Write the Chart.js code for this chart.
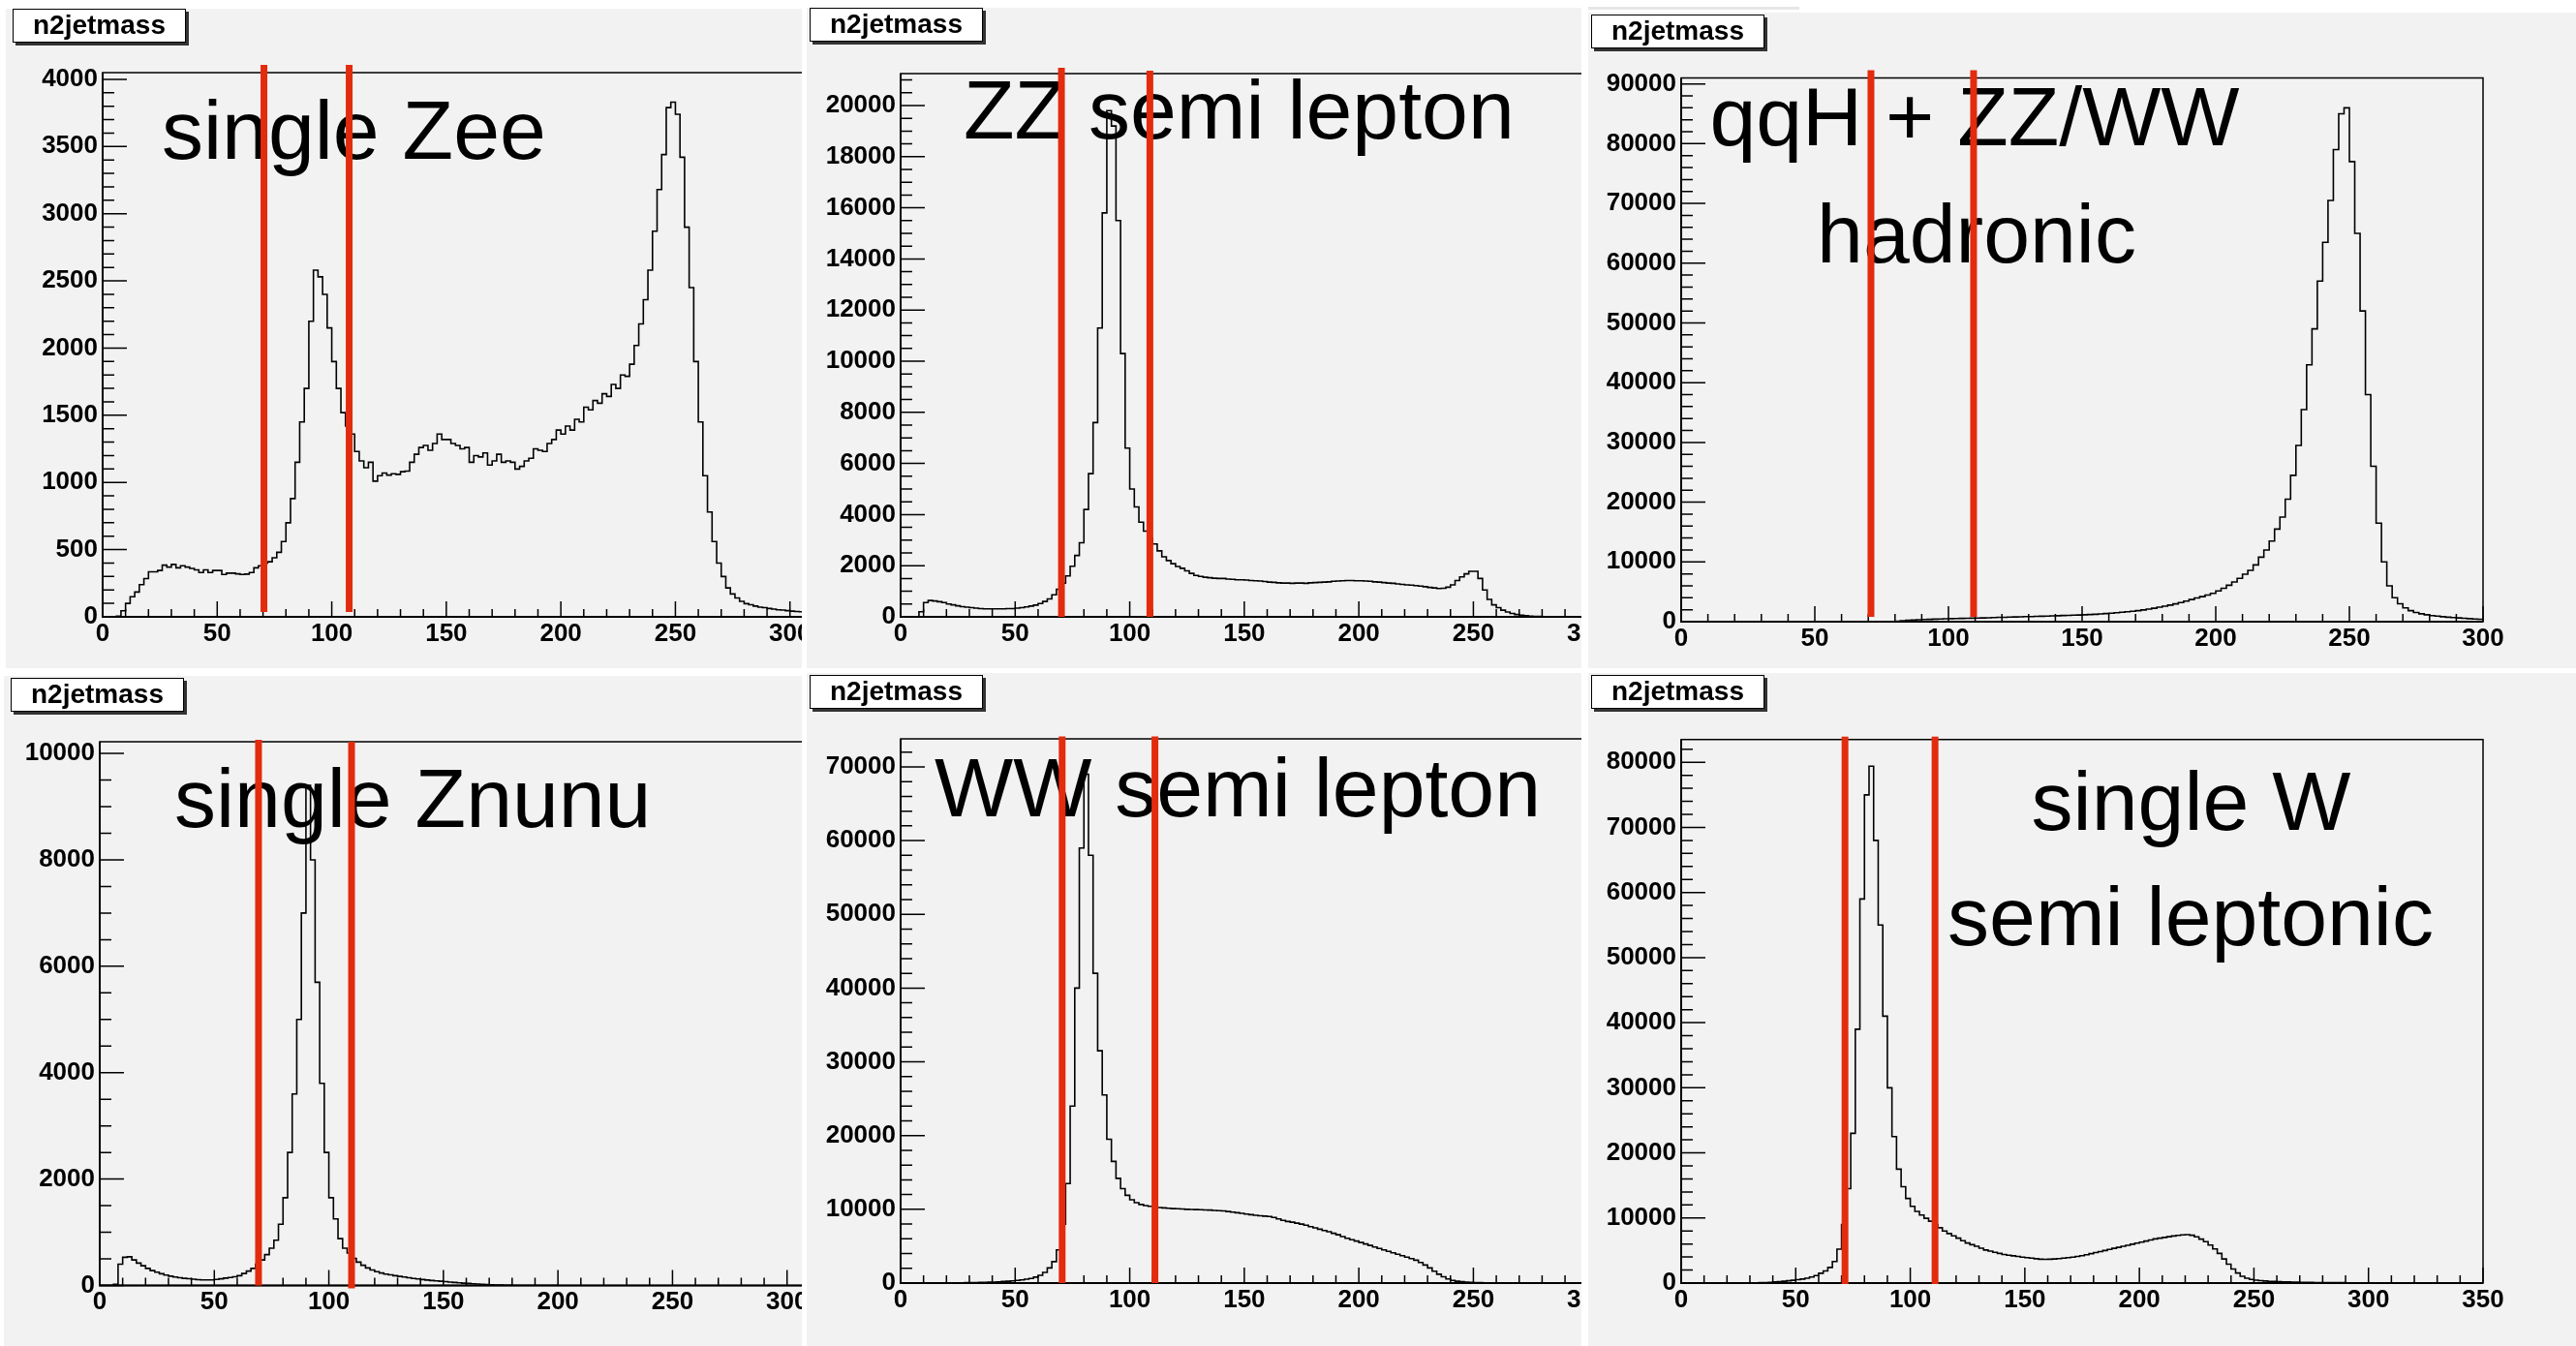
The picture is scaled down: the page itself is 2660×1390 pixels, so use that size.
<!DOCTYPE html>
<html>
<head>
<meta charset="utf-8">
<title>n2jetmass</title>
<script src="https://cdn.jsdelivr.net/npm/chart.js@4.4.1/dist/chart.umd.min.js"></script>
<style>
  html, body { margin: 0; padding: 0; background: #fff; }
  #page { position: relative; width: 2660px; height: 1390px; overflow: hidden; background: #fff; }
  .panel { position: absolute; background: #f2f2f2; overflow: hidden; }
  .panel canvas { position: absolute; left: 0; top: 0; }
  .title {
    position: absolute; box-sizing: border-box; width: 179px; height: 35px;
    background: #fff; border: 1.5px solid #000; box-shadow: 3px 3px 0 #333;
    font: bold 28px "Liberation Sans", Arial, sans-serif; line-height: 31px; text-align: center; color: #000;
  }
  #strip { position: absolute; left: 1640px; top: 7px; width: 218px; height: 3px; background: #e6e6e6; }
</style>
</head>
<body>
<div id="page">
  <div id="strip"></div>
  <div class="panel" style="left:6px;top:9px;width:822px;height:681px">
    <canvas id="c1" width="968" height="681"></canvas>
    <div class="title" style="left:7px;top:0px">n2jetmass</div>
  </div>
  <div class="panel" style="left:833px;top:8px;width:800px;height:682px">
    <canvas id="c2" width="965" height="682"></canvas>
    <div class="title" style="left:3px;top:0px">n2jetmass</div>
  </div>
  <div class="panel" style="left:1640px;top:13px;width:1020px;height:677px">
    <canvas id="c3" width="1020" height="677"></canvas>
    <div class="title" style="left:3px;top:2px">n2jetmass</div>
  </div>
  <div class="panel" style="left:4px;top:698px;width:824px;height:692px">
    <canvas id="c4" width="967" height="692"></canvas>
    <div class="title" style="left:7px;top:2px">n2jetmass</div>
  </div>
  <div class="panel" style="left:833px;top:695px;width:800px;height:695px">
    <canvas id="c5" width="965" height="695"></canvas>
    <div class="title" style="left:3px;top:2px">n2jetmass</div>
  </div>
  <div class="panel" style="left:1640px;top:695px;width:1020px;height:695px">
    <canvas id="c6" width="1020" height="695"></canvas>
    <div class="title" style="left:3px;top:2px">n2jetmass</div>
  </div>
</div>
<script>
// bins of 2 GeV starting at 0, one row = 20 GeV
const binWidth = 2;

const zeeCounts = [
  0, 0, 0, 5, 45, 100, 150, 185, 240, 285,
  335, 335, 345, 385, 370, 390, 365, 380, 370, 360,
  350, 330, 350, 330, 345, 345, 315, 325, 325, 320,
  315, 318, 330, 365, 380, 400, 410, 440, 480, 560,
  700, 880, 1150, 1450, 1700, 2200, 2580, 2530, 2400, 2150,
  1900, 1700, 1520, 1420, 1360, 1230, 1160, 1110, 1150, 1010,
  1050, 1070, 1055, 1065, 1060, 1080, 1085, 1150, 1210, 1260,
  1275, 1240, 1290, 1360, 1320, 1320, 1290, 1275, 1250, 1260,
  1150, 1200, 1190, 1220, 1130, 1160, 1210, 1150, 1160, 1150,
  1100, 1120, 1160, 1180, 1250, 1240, 1230, 1290, 1320, 1390,
  1360, 1420, 1390, 1470, 1450, 1560, 1540, 1610, 1590, 1660,
  1640, 1730, 1700, 1800, 1790, 1880, 2020, 2180, 2360, 2580,
  2870, 3180, 3440, 3790, 3830, 3740, 3420, 2900, 2450, 1900,
  1450, 1050, 780, 560, 400, 300, 215, 170, 140, 115,
  98, 90, 80, 72, 68, 62, 58, 52, 50, 46,
  42, 40, 38, 36, 34
];

const zzSemiCounts = [
  0, 0, 0, 0, 200, 560, 640, 620, 590, 560,
  500, 470, 430, 400, 380, 360, 340, 320, 315, 315,
  315, 315, 315, 320, 320, 340, 360, 390, 420, 460,
  520, 600, 700, 860, 1080, 1320, 1600, 1980, 2400, 2900,
  4200, 5600, 7600, 11300, 15800, 19800, 19200, 15500, 10300, 6600,
  5000, 4300, 3700, 3350, 3080, 2850, 2580, 2350, 2200, 2080,
  1970, 1900, 1800, 1700, 1620, 1580, 1550, 1530, 1510, 1500,
  1500, 1480, 1470, 1450, 1450, 1440, 1420, 1410, 1400, 1380,
  1360, 1350, 1330, 1320, 1320, 1310, 1320, 1320, 1310, 1330,
  1340, 1350, 1360, 1370, 1390, 1400, 1410, 1420, 1420, 1410,
  1410, 1400, 1390, 1370, 1360, 1340, 1320, 1310, 1290, 1270,
  1250, 1240, 1220, 1200, 1180, 1150, 1130, 1110, 1120, 1160,
  1250, 1420, 1560, 1680, 1780, 1780, 1500, 1050, 680, 470,
  360, 260, 190, 130, 90, 65, 45, 30, 20, 15,
  10, 8, 5, 4, 3, 2, 1, 1, 0, 0
];

const qqhCounts = [
  0, 0, 0, 0, 0, 0, 0, 0, 0, 0,
  0, 0, 0, 0, 0, 0, 0, 0, 0, 0,
  0, 0, 0, 0, 0, 0, 0, 0, 0, 0,
  0, 0, 0, 0, 0, 0, 0, 0, 0, 20,
  60, 150, 220, 280, 330, 360, 390, 420, 450, 480,
  510, 530, 550, 570, 590, 610, 630, 660, 690, 720,
  740, 770, 790, 820, 840, 860, 890, 910, 940, 970,
  1000, 1030, 1060, 1090, 1120, 1150, 1190, 1240, 1300, 1360,
  1430, 1500, 1580, 1660, 1750, 1850, 1970, 2100, 2250, 2420,
  2600, 2780, 2980, 3200, 3450, 3700, 3980, 4200, 4450, 4750,
  5150, 5600, 6100, 6650, 7250, 7950, 8600, 9500, 10800, 12000,
  13500, 15500, 17500, 20500, 24500, 29500, 35500, 43000, 49000, 57000,
  63500, 70500, 79000, 85000, 86000, 77000, 65000, 52000, 38000, 26000,
  16500, 10000, 6000, 4000, 3000, 2300, 1850, 1550, 1320, 1150,
  1020, 920, 830, 750, 680, 620, 560, 500, 450, 400
];

const znunuCounts = [
  0, 0, 0, 20, 400, 530, 540, 480, 420, 370,
  320, 280, 250, 220, 195, 175, 160, 145, 135, 128,
  118, 108, 105, 104, 106, 115, 125, 138, 150, 165,
  185, 225, 270, 320, 400, 480, 580, 700, 850, 1150,
  1650, 2500, 3600, 5000, 7000, 9400, 8000, 5700, 3800, 2500,
  1650, 1250, 880, 700, 610, 510, 440, 380, 330, 290,
  260, 235, 215, 200, 185, 170, 160, 145, 132, 122,
  112, 102, 94, 86, 80, 72, 64, 56, 50, 44,
  38, 32, 26, 20, 16, 12, 9, 6, 4, 2,
  1, 0, 0, 0, 0, 0, 0, 0, 0, 0
];

const wwSemiCounts = [
  0, 0, 0, 0, 0, 0, 0, 0, 0, 0,
  0, 0, 20, 30, 45, 60, 75, 90, 105, 120,
  140, 170, 210, 250, 300, 360, 430, 520, 620, 800,
  1050, 1450, 2050, 2900, 4500, 8000, 13500, 24000, 40000, 59000,
  69000, 58000, 42000, 31500, 25500, 19500, 16500, 14200, 12800, 11900,
  11300, 10900, 10650, 10500, 10400, 10350, 10250, 10200, 10150, 10100,
  10080, 10050, 10000, 9980, 9960, 9940, 9920, 9900, 9850, 9820,
  9790, 9700, 9620, 9540, 9450, 9360, 9280, 9200, 9130, 9080,
  9030, 8900, 8700, 8500, 8350, 8250, 8120, 8000, 7850, 7650,
  7480, 7300, 7120, 6950, 6750, 6550, 6300, 6080, 5880, 5700,
  5500, 5300, 5100, 4900, 4700, 4500, 4300, 4100, 3900, 3700,
  3520, 3320, 3100, 2800, 2450, 2050, 1600, 1200, 850, 550,
  370, 250, 180, 130, 95, 70, 55, 40, 30, 22,
  15, 10, 6, 4, 2, 1, 0, 0, 0, 0
];

const singleWCounts = [
  0, 0, 0, 0, 0, 0, 0, 0, 0, 0,
  0, 5, 10, 15, 20, 30, 40, 55, 80, 120,
  180, 230, 280, 350, 430, 510, 620, 750, 930, 1150,
  1500, 1850, 2400, 3300, 5200, 9000, 14500, 23000, 39000, 59000,
  75000, 79400, 68000, 55000, 41000, 30000, 22500, 17500, 14800, 13000,
  11800, 11000, 10450, 9950, 9500, 9000, 8500, 8000, 7600, 7250,
  6900, 6500, 6150, 5900, 5650, 5350, 5080, 4900, 4720, 4550,
  4380, 4280, 4180, 4090, 3990, 3900, 3820, 3740, 3660, 3640,
  3660, 3700, 3760, 3830, 3910, 3990, 4080, 4200, 4360, 4520,
  4680, 4840, 5000, 5160, 5330, 5490, 5650, 5810, 5970, 6130,
  6290, 6450, 6610, 6780, 6900, 7010, 7120, 7230, 7330, 7400,
  7440, 7350, 7100, 6750, 6350, 5850, 5250, 4550, 3700, 2900,
  2150, 1550, 1050, 750, 560, 450, 370, 310, 270, 240,
  210, 180, 160, 140, 125, 110, 100, 90, 82, 75,
  70, 65, 60, 55, 50, 45, 40, 35, 30, 25,
  22, 19, 16, 13, 11, 9, 7, 5, 4, 3,
  2, 2, 1, 1, 1, 0, 0, 0, 0, 0
];

// mass window cuts drawn in red, GeV
const zeeCuts = [70.4, 107.6];
const zzSemiCuts = [70.2, 108.8];
const qqhCuts = [71.0, 109.4];
const znunuCuts = [69.3, 109.9];
const wwSemiCuts = [70.5, 111.0];
const singleWCuts = [71.5, 110.8];

const tickFont = { family: 'Liberation Sans', size: 26, weight: 'bold' };

// major ticks every `step` from 0 up to the axis max
function stepTicks(scale, step) {
  const out = [];
  for (let i = 0; i * step <= scale.max; i++) out.push({ value: i * step });
  scale.ticks = out;
}

// ROOT style frame, inner ticks, big labels and cut lines
const rootFrame = {
  id: 'rootFrame',
  beforeDatasetsDraw(chart, args, o) {
    const { ctx, chartArea: a, scales: { x, y } } = chart;
    ctx.save();
    ctx.strokeStyle = '#000';
    ctx.lineWidth = 1.5;
    ctx.strokeRect(a.left, a.top, a.right - a.left, a.bottom - a.top);
    ctx.lineWidth = 2;
    ctx.beginPath();
    ctx.moveTo(a.left, a.top);
    ctx.lineTo(a.left, a.bottom);
    ctx.lineTo(a.right, a.bottom);
    ctx.stroke();
    ctx.lineWidth = 1.5;
    ctx.beginPath();
    for (let i = 0; i * 10 <= x.max; i++) {
      const px = x.getPixelForValue(i * 10);
      ctx.moveTo(px, a.bottom);
      ctx.lineTo(px, a.bottom - (i % 5 === 0 ? 16 : 8));
    }
    const per = o.yStep / o.yMinor;
    for (let i = 0; i * o.yMinor <= y.max; i++) {
      const py = y.getPixelForValue(i * o.yMinor);
      ctx.moveTo(a.left, py);
      ctx.lineTo(a.left + (i % per === 0 ? 25 : 12), py);
    }
    ctx.stroke();
    ctx.restore();
  },
  afterDatasetsDraw(chart, args, o) {
    const { ctx, chartArea: a, scales: { x } } = chart;
    ctx.save();
    ctx.fillStyle = '#000';
    ctx.font = '86px "Liberation Sans", Arial, sans-serif';
    ctx.textBaseline = 'alphabetic';
    o.notes.forEach(n => {
      ctx.textAlign = n.align;
      ctx.fillText(n.text, n.x, n.y);
    });
    ctx.fillStyle = '#e32b0e';
    o.cuts.forEach((c, i) => {
      const px = x.getPixelForValue(c);
      const top = a.top - o.cutTop[i];
      const bottom = a.bottom - o.cutGap[i];
      ctx.fillRect(px - 3.5, top, 7, bottom - top);
    });
    ctx.restore();
  }
};

function makeHist(p) {
  const canvas = document.getElementById(p.canvas);
  const W = canvas.width, H = canvas.height;
  const pts = p.counts.map((c, i) => ({ x: i * binWidth, y: c }));
  pts.push({ x: p.counts.length * binWidth, y: 0 });

  new Chart(canvas, {
    type: 'line',
    data: {
      datasets: [{
        data: pts,
        borderColor: '#000',
        borderWidth: 1.6,
        pointRadius: 0,
        stepped: 'before',
        fill: false
      }]
    },
    options: {
      responsive: false,
      animation: false,
      devicePixelRatio: 1,
      events: [],
      layout: { padding: { left: 0, top: p.frame.t, right: W - p.frame.r, bottom: 0 } },
      plugins: {
        legend: { display: false },
        tooltip: { enabled: false },
        rootFrame: { yStep: p.yStep, yMinor: p.yMinor, cuts: p.cuts, cutTop: p.cutTop, cutGap: p.cutGap, notes: p.notes }
      },
      scales: {
        x: {
          type: 'linear', min: 0, max: p.xMax,
          afterBuildTicks: s => stepTicks(s, 50),
          afterFit: s => { s.height = H - p.frame.b; },
          grid: { display: false, drawTicks: false },
          border: { display: false },
          ticks: { autoSkip: false, maxRotation: 0, padding: 2,
                   font: tickFont, color: '#000', callback: v => String(v) }
        },
        y: {
          type: 'linear', min: 0, max: p.yMax,
          afterBuildTicks: s => stepTicks(s, p.yStep),
          afterFit: s => { s.width = p.frame.l; },
          grid: { display: false, drawTicks: false },
          border: { display: false },
          ticks: { autoSkip: false, padding: 5,
                   font: tickFont, color: '#000', callback: v => String(v) }
        }
      }
    },
    plugins: [rootFrame]
  });
}

const panels = [
  { canvas: 'c1', counts: zeeCounts, cuts: zeeCuts, xMax: 350, yMax: 4050, yStep: 500, yMinor: 100,
    frame: { l: 100, t: 66, r: 928, b: 628 }, cutTop: [8, 8], cutGap: [5, 5],
    notes: [{ text: 'single Zee', x: 161, y: 154.7, align: 'left' }] },
  { canvas: 'c2', counts: zzSemiCounts, cuts: zzSemiCuts, xMax: 350, yMax: 21250, yStep: 2000, yMinor: 500,
    frame: { l: 97, t: 68, r: 925, b: 629 }, cutTop: [6, 3], cutGap: [0, 0],
    notes: [{ text: 'ZZ semi lepton', x: 162, y: 135, align: 'left' }] },
  { canvas: 'c3', counts: qqhCounts, cuts: qqhCuts, xMax: 300, yMax: 91000, yStep: 10000, yMinor: 2000,
    frame: { l: 96, t: 67.5, r: 924, b: 629 }, cutTop: [8, 8], cutGap: [5, 5],
    notes: [{ text: 'qqH + ZZ/WW', x: 399, y: 136.6, align: 'center' },
            { text: 'hadronic', x: 401, y: 257.6, align: 'center' }] },
  { canvas: 'c4', counts: znunuCounts, cuts: znunuCuts, xMax: 350, yMax: 10220, yStep: 2000, yMinor: 500,
    frame: { l: 99, t: 68, r: 927, b: 629.5 }, cutTop: [2, 0], cutGap: [0, -3],
    notes: [{ text: 'single Znunu', x: 176, y: 156, align: 'left' }] },
  { canvas: 'c5', counts: wwSemiCounts, cuts: wwSemiCuts, xMax: 350, yMax: 73800, yStep: 10000, yMinor: 2000,
    frame: { l: 97, t: 68, r: 925, b: 630 }, cutTop: [2.5, 2.5], cutGap: [0, 0],
    notes: [{ text: 'WW semi lepton', x: 132, y: 147.7, align: 'left' }] },
  { canvas: 'c6', counts: singleWCounts, cuts: singleWCuts, xMax: 350, yMax: 83500, yStep: 10000, yMinor: 2000,
    frame: { l: 96, t: 68.7, r: 924, b: 630 }, cutTop: [3, 3], cutGap: [-1, -1],
    notes: [{ text: 'single W', x: 622.5, y: 162.4, align: 'center' },
            { text: 'semi leptonic', x: 622, y: 280.7, align: 'center' }] }
];

panels.forEach(makeHist);
</script>
</body>
</html>
